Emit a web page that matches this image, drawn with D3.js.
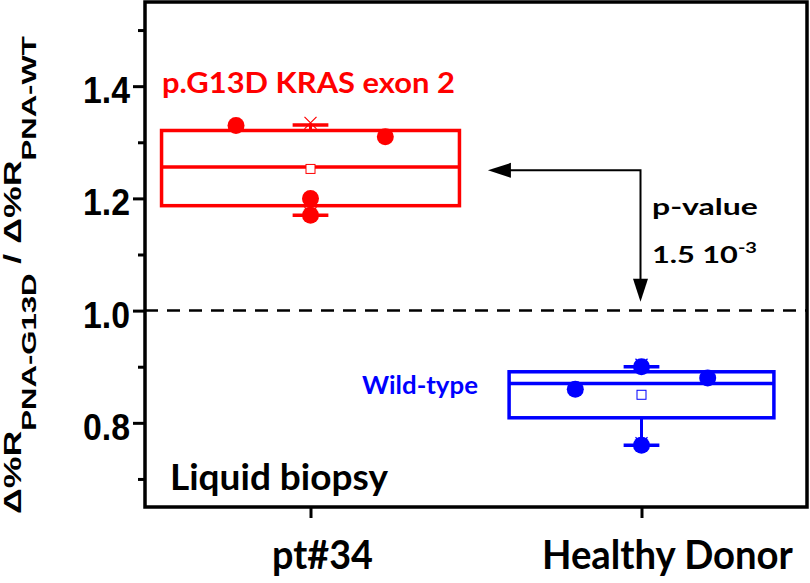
<!DOCTYPE html>
<html>
<head>
<meta charset="utf-8">
<script src="https://cdn.jsdelivr.net/npm/d3@7"></script>
<style>
body { margin: 0; background: #fff; }
svg { display: block; }
</style>
</head>
<body>
<div id="chart"></div>
<script>
// data
const groups = ['pt#34', 'Healthy Donor'];
const groupPos = [1, 2];
const colors = ['#ff0000', '#0000ff'];
const q1 = [1.187, 0.809];
const median = [1.256, 0.870];
const q3 = [1.321, 0.891];
const whiskerLow = [1.170, 0.760];
const whiskerHigh = [1.331, 0.900];
const means = [1.2525, 0.85];
const boxHalfWidth = [0.45, 0.40];
const pointValues = [[1.33, 1.31, 1.20, 1.17], [0.90, 0.88, 0.86, 0.76]];
const pointOffsets = [[-0.225, 0.226, 0, 0], [0, 0.2, -0.2, 0]];
const yMajorTicks = [0.8, 1.0, 1.2, 1.4];
const yMinorTicks = [0.7, 0.9, 1.1, 1.3, 1.5];
const refLine = 1.0;
// arrow: from the red mean level over to the reference line at Healthy Donor
const arrowLeftX = 1.536, arrowLevel = 1.25, arrowDownTo = 1.016;

const W = 810, H = 583;
const margin = {top: 2, right: 3, bottom: 76, left: 145};
const calibri = 'Lato, Carlito, Calibri, sans-serif';
const arial = '"Liberation Sans", Arial, sans-serif';

const svg = d3.select('#chart').append('svg')
    .attr('width', W).attr('height', H);

const x = d3.scaleLinear().domain([0.5, 2.5]).range([margin.left, W - margin.right]);
const y = d3.scaleLinear().domain([0.65, 1.55]).range([H - margin.bottom, margin.top]);

// squeeze a text horizontally so it fits the width it has in the picture
function fitText(t, px, py, w, extra) {
    let len = t.node().getComputedTextLength();
    let k = w / len;
    t.attr('transform', 'translate(' + px + ',' + py + ')' + (extra || '') + ' scale(' + k + ',1)');
    return t;
}
function addText(str, px, py, w, font, size, color) {
    let t = svg.append('text')
        .attr('font-family', font).attr('font-size', size).attr('font-weight', 'bold')
        .attr('fill', color).text(str);
    return fitText(t, px, py, w);
}

// dashed reference line
svg.append('line')
    .attr('x1', x(0.5)).attr('x2', x(2.5))
    .attr('y1', y(refLine)).attr('y2', y(refLine))
    .attr('stroke', '#000').attr('stroke-width', 2.5)
    .attr('stroke-dasharray', '13,9');

// y axis, major + minor ticks
let yAxis = svg.append('g').attr('transform', 'translate(' + x(0.5) + ',0)')
    .call(d3.axisLeft(y).tickValues(yMajorTicks).tickSize(12).tickFormat(''));
yAxis.select('.domain').remove();
yAxis.selectAll('.tick line').attr('stroke-width', 3);
yAxis.selectAll('.tick').each(function(d) {
    let t = d3.select(this).append('text')
        .attr('font-family', arial).attr('font-size', 37).attr('font-weight', 'bold')
        .attr('fill', '#000').attr('text-anchor', 'end')
        .text(d3.format('.1f')(d));
    fitText(t, -15, 16.5, 47);
});
let yMinor = svg.append('g').attr('transform', 'translate(' + x(0.5) + ',0)')
    .call(d3.axisLeft(y).tickValues(yMinorTicks).tickSize(7).tickFormat(''));
yMinor.select('.domain').remove();
yMinor.selectAll('.tick line').attr('stroke-width', 3);

// x axis ticks
let xAxis = svg.append('g').attr('transform', 'translate(0,' + y(0.65) + ')')
    .call(d3.axisBottom(x).tickValues(groupPos).tickSize(11).tickFormat(''));
xAxis.select('.domain').remove();
xAxis.selectAll('.tick line').attr('stroke-width', 3);

// frame
svg.append('rect')
    .attr('x', x(0.5)).attr('y', y(1.55))
    .attr('width', x(2.5) - x(0.5)).attr('height', y(0.65) - y(1.55))
    .attr('fill', 'none').attr('stroke', '#000').attr('stroke-width', 3.5);

// boxes
groups.forEach((g, i) => {
    let c = colors[i], p = groupPos[i], hw = boxHalfWidth[i];
    let bg = svg.append('g').attr('class', 'box');
    // whiskers
    bg.append('line').attr('x1', x(p)).attr('x2', x(p))
        .attr('y1', y(q3[i])).attr('y2', y(whiskerHigh[i]))
        .attr('stroke', c).attr('stroke-width', 3);
    bg.append('line').attr('x1', x(p)).attr('x2', x(p))
        .attr('y1', y(q1[i])).attr('y2', y(whiskerLow[i]))
        .attr('stroke', c).attr('stroke-width', 3);
    // 1% / 99% crosses
    [whiskerLow[i], whiskerHigh[i]].forEach(v => {
        bg.append('path')
            .attr('d', 'M-6,-6L6,6M-6,6L6,-6')
            .attr('transform', 'translate(' + x(p) + ',' + (y(v) - 2) + ')')
            .attr('stroke', c).attr('stroke-width', 1.2).attr('fill', 'none');
    });
    [whiskerLow[i], whiskerHigh[i]].forEach(v => {
        bg.append('line').attr('x1', x(p - 0.054)).attr('x2', x(p + 0.054))
            .attr('y1', y(v)).attr('y2', y(v))
            .attr('stroke', c).attr('stroke-width', 3.5);
    });
    bg.append('rect')
        .attr('x', x(p - hw)).attr('y', y(q3[i]))
        .attr('width', x(p + hw) - x(p - hw)).attr('height', y(q1[i]) - y(q3[i]))
        .attr('fill', 'none').attr('stroke', c).attr('stroke-width', 3.5);
    bg.append('line').attr('x1', x(p - hw)).attr('x2', x(p + hw))
        .attr('y1', y(median[i])).attr('y2', y(median[i]))
        .attr('stroke', c).attr('stroke-width', 3.5);
    bg.append('rect')
        .attr('x', x(p) - 4.5).attr('y', y(means[i]) - 4.5)
        .attr('width', 9).attr('height', 9)
        .attr('fill', '#fff').attr('stroke', c).attr('stroke-width', 1);
    bg.selectAll('circle').data(pointValues[i]).enter().append('circle')
        .attr('cx', (d, j) => x(p + pointOffsets[i][j]))
        .attr('cy', d => y(d))
        .attr('r', 8.5)
        .attr('fill', c);
});

// arrow annotation
let ax = svg.append('g').attr('class', 'arrow');
ax.append('path')
    .attr('d', 'M' + (x(arrowLeftX) + 18) + ',' + y(arrowLevel) +
               'H' + (x(2) - 1) + 'V' + (y(arrowDownTo) - 18))
    .attr('fill', 'none').attr('stroke', '#000').attr('stroke-width', 2);
ax.append('path')
    .attr('d', 'M' + x(arrowLeftX) + ',' + y(arrowLevel) +
               'l23,-7.5v15z')
    .attr('fill', '#000');
ax.append('path')
    .attr('d', 'M' + (x(2) - 1) + ',' + y(arrowDownTo) +
               'l-7.5,-23h15z')
    .attr('fill', '#000');

// texts
addText('p.G13D KRAS exon 2', 162, 93, 293, calibri, 28, '#ff0000');
addText('Wild-type', 362, 394, 116, calibri, 25, '#0000ff');
addText('Liquid biopsy', 170, 490, 218, calibri, 36, '#000');
addText('p-value', 652, 215, 106, calibri, 23, '#000');

let pv = svg.append('text')
    .attr('font-family', calibri).attr('font-size', 23).attr('font-weight', 'bold').attr('fill', '#000');
pv.append('tspan').text('1.5 10');
pv.append('tspan').attr('font-size', 15).attr('dy', -10).text('-3');
fitText(pv, 652, 263, 105);

addText(groups[0], 272, 569, 101, calibri, 41, '#000');
addText(groups[1], 542, 569, 251, calibri, 41, '#000');

// y axis title with subscripts
let yl = svg.append('text')
    .attr('font-family', arial).attr('font-size', 23).attr('font-weight', 'bold').attr('fill', '#000');
yl.append('tspan').text('Δ%R');
yl.append('tspan').attr('font-size', 20).attr('dy', 15).text('PNA-G13D');
yl.append('tspan').attr('dy', -15).text(' / Δ%R');
yl.append('tspan').attr('font-size', 20).attr('dy', 15).text('PNA-WT');
fitText(yl, 21, 514, 478, ' rotate(-90)');
</script>
</body>
</html>
